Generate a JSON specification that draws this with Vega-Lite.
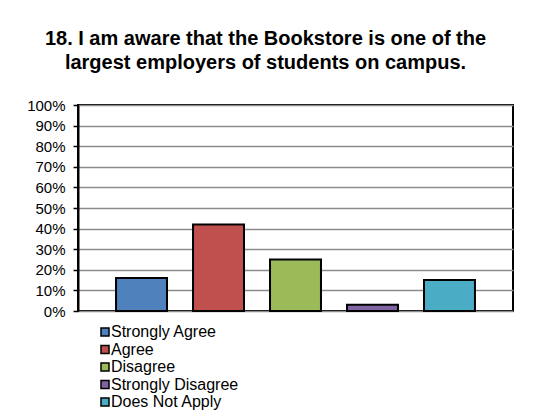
{
  "$schema": "https://vega.github.io/schema/vega-lite/v6.json",
  "width": 435,
  "height": 206,
  "autosize": {"type": "none"},
  "padding": {"left": 78, "top": 105, "right": 23, "bottom": 109},
  "background": "white",
  "title": {
    "text": ["18. I am aware that the Bookstore is one of the", "largest employers of students on campus."],
    "font": "Liberation Sans",
    "fontSize": 20,
    "fontWeight": "bold",
    "color": "black",
    "anchor": "middle",
    "dx": -30,
    "offset": 25,
    "lineHeight": 24
  },
  "data": {
    "values": [
      {"response": "Strongly Agree", "pct": 0.16},
      {"response": "Agree", "pct": 0.42},
      {"response": "Disagree", "pct": 0.25},
      {"response": "Strongly Disagree", "pct": 0.03},
      {"response": "Does Not Apply", "pct": 0.15}
    ]
  },
  "mark": {"type": "bar", "stroke": "black", "strokeWidth": 2},
  "encoding": {
    "x": {
      "field": "response",
      "type": "nominal",
      "sort": null,
      "axis": null,
      "scale": {"paddingInner": 0.338, "paddingOuter": 0.494}
    },
    "y": {
      "field": "pct",
      "type": "quantitative",
      "scale": {"domain": [0, 1], "nice": false},
      "axis": {
        "title": null,
        "values": [0, 0.1, 0.2, 0.3, 0.4, 0.5, 0.6, 0.7, 0.8, 0.9, 1.0],
        "format": ".0%",
        "grid": true,
        "gridColor": "#8c8c8c",
        "gridWidth": 1.5,
        "domainColor": "black",
        "domainWidth": 2,
        "tickColor": "black",
        "tickSize": 5,
        "tickWidth": 1.5,
        "labelFont": "Liberation Sans",
        "labelFontSize": 15,
        "labelColor": "black",
        "labelPadding": 8
      }
    },
    "color": {
      "field": "response",
      "type": "nominal",
      "scale": {
        "domain": ["Strongly Agree", "Agree", "Disagree", "Strongly Disagree", "Does Not Apply"],
        "range": ["#4F81BD", "#C0504D", "#9BBB59", "#8064A2", "#4BACC6"]
      },
      "legend": {
        "title": null,
        "orient": "none",
        "legendX": 19,
        "legendY": 219,
        "direction": "vertical",
        "symbolType": "square",
        "symbolSize": 64,
        "symbolStrokeColor": "black",
        "symbolStrokeWidth": 1.5,
        "labelFont": "Liberation Sans",
        "labelFontSize": 16,
        "labelColor": "black",
        "labelOffset": -2,
        "rowPadding": 1.5
      }
    }
  },
  "config": {
    "view": {"stroke": "black", "strokeWidth": 2}
  }
}
